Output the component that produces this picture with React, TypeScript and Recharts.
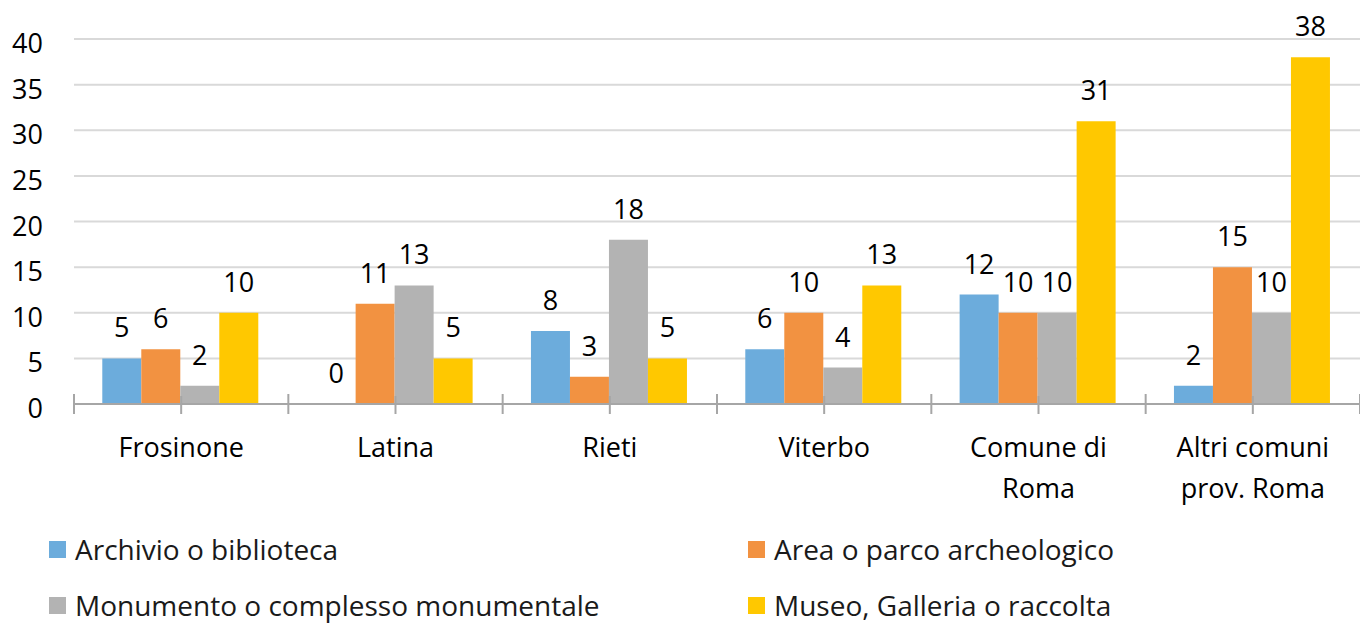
import React from "react";
import { BarChart, Bar, XAxis, YAxis, CartesianGrid, LabelList, Legend } from "recharts";

const categories = ["Frosinone", "Latina", "Rieti", "Viterbo", "Comune di\nRoma", "Altri comuni\nprov. Roma"];
const archivio = [5, 0, 8, 6, 12, 2];
const area = [6, 11, 3, 10, 10, 15];
const monumento = [2, 13, 18, 4, 10, 10];
const museo = [10, 5, 5, 13, 31, 38];
const yTicks = [0, 5, 10, 15, 20, 25, 30, 35, 40];

const seriesNames = [
  "Archivio o biblioteca",
  "Area o parco archeologico",
  "Monumento o complesso monumentale",
  "Museo, Galleria o raccolta",
];
const seriesKeys = ["archivio", "area", "monumento", "museo"];
const seriesColors = ["#6CACDC", "#F29241", "#B3B3B3", "#FFC800"];

const data = categories.map((c, i) => ({
  name: c,
  archivio: archivio[i],
  area: area[i],
  monumento: monumento[i],
  museo: museo[i],
}));

const FONT = "'Open Sans', sans-serif";
const AXIS_COLOR = "#A6A6A6";

const XTick = (props: any) => {
  const { x, y, payload, index, width } = props;
  const n = categories.length;
  const half = width ? width / n / 2 : (payload && payload.offset) || 107;
  const lines = String(payload.value).split("\n");
  const tickLines = [
    <line key="b" x1={x - half} x2={x - half} y1={y - 10} y2={y + 10} stroke={AXIS_COLOR} strokeWidth={2} />,
    <line key="m" x1={x} x2={x} y1={y - 8} y2={y + 10} stroke={AXIS_COLOR} strokeWidth={2} />,
  ];
  if (index === n - 1) {
    tickLines.push(
      <line key="e" x1={x + half} x2={x + half} y1={y - 10} y2={y + 10} stroke={AXIS_COLOR} strokeWidth={2} />
    );
  }
  return (
    <g>
      {tickLines}
      {lines.map((l, i) => (
        <text key={i} x={x} y={y + 53 + i * 41} textAnchor="middle" fill="#000" fontSize={27} fontFamily={FONT}>
          {l}
        </text>
      ))}
    </g>
  );
};

const YTick = (props: any) => {
  const { x, y, payload } = props;
  return (
    <text x={x} y={y + 14} textAnchor="end" fill="#000" fontSize={27} fontFamily={FONT}>
      {payload.value}
    </text>
  );
};

const BarLabel = (props: any) => {
  const { x, y, width, value } = props;
  if (value === undefined || value === null) return null;
  return (
    <text x={Number(x) + Number(width) / 2} y={Number(y) - 21} textAnchor="middle" fill="#000" fontSize={27} fontFamily={FONT}>
      {value}
    </text>
  );
};

const legendPos = [
  { left: 49, top: 12 },
  { left: 748, top: 12 },
  { left: 49, top: 68 },
  { left: 748, top: 68 },
];

const renderLegend = () => (
  <div style={{ position: "relative", width: 1360, height: 96, fontFamily: FONT }}>
    {seriesNames.map((name, i) => (
      <div
        key={name}
        style={{
          position: "absolute",
          left: legendPos[i].left,
          top: legendPos[i].top,
          display: "flex",
          alignItems: "center",
          height: 18,
        }}
      >
        <div style={{ width: 17, height: 17, background: seriesColors[i], marginRight: 9 }} />
        <span style={{ fontSize: 28, color: "#1A1A1A", whiteSpace: "nowrap", lineHeight: "18px" }}>{name}</span>
      </div>
    ))}
  </div>
);

export default function App() {
  return (
    <div style={{ position: "absolute", left: 0, top: 0, width: 1360, height: 624, background: "#fff" }}>
      <BarChart
        width={1360}
        height={624}
        data={data}
        margin={{ top: 39, right: 0, left: 0, bottom: 120 }}
        barCategoryGap="13.2%"
        barGap={0}
      >
        <CartesianGrid vertical={false} stroke="#D9D9D9" strokeWidth={2} />
        <XAxis
          dataKey="name"
          height={100}
          axisLine={{ stroke: AXIS_COLOR, strokeWidth: 2 }}
          tickLine={false}
          tickSize={0}
          tickMargin={0}
          interval={0}
          tick={<XTick />}
        />
        <YAxis
          width={74}
          domain={[0, 40]}
          ticks={yTicks}
          axisLine={false}
          tickLine={false}
          tickSize={0}
          tickMargin={31}
          interval={0}
          tick={<YTick />}
        />
        <Legend
          layout="horizontal"
          verticalAlign="middle"
          align="center"
          content={renderLegend}
          wrapperStyle={{ top: 528, left: 0, width: 1360, height: 96 }}
        />
        {seriesKeys.map((k, i) => (
          <Bar key={k} dataKey={k} name={seriesNames[i]} fill={seriesColors[i]} minPointSize={0.01} isAnimationActive={false}>
            <LabelList dataKey={k} content={<BarLabel />} />
          </Bar>
        ))}
      </BarChart>
    </div>
  );
}
